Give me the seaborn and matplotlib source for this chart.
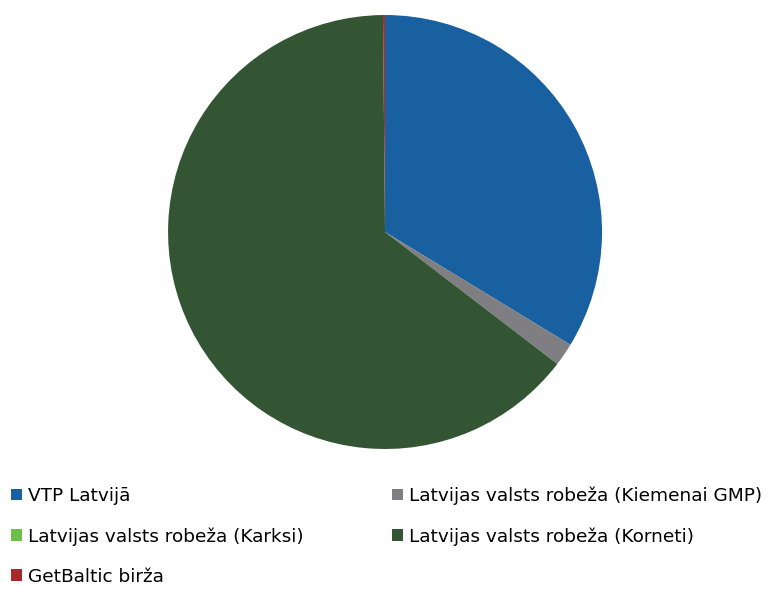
import matplotlib
matplotlib.use("Agg")
import matplotlib.pyplot as plt
from matplotlib.patches import Patch
import seaborn as sns

labels = [
    "VTP Latvijā",
    "Latvijas valsts robeža (Kiemenai GMP)",
    "Latvijas valsts robeža (Karksi)",
    "Latvijas valsts robeža (Korneti)",
    "GetBaltic birža",
]
shares = [33.7, 1.7, 0.0, 64.45, 0.15]
colors = ["#18609f", "#7f7f83", "#6cc04a", "#335533", "#a52a2a"]

sns.set_theme(style="white")
plt.rcParams["font.family"] = ["DejaVu Sans"]

fig = plt.figure(figsize=(7.69, 5.89), dpi=100)
ax = fig.add_axes([0.2185, 0.2377, 0.5644, 0.7368])
ax.pie(shares, colors=colors, startangle=90, counterclock=False,
       wedgeprops=dict(linewidth=0))
ax.set_xlim(-1, 1)
ax.set_ylim(-1, 1)
ax.set_aspect("equal")
ax.axis("off")

# legend order: row-wise, two columns
handles = [Patch(facecolor=c, edgecolor="none") for c in colors]
order = [0, 2, 4, 1, 3]
fig.legend([handles[i] for i in order], [labels[i] for i in order],
           ncol=2, loc="upper left", bbox_to_anchor=(0.014, 0.174),
           frameon=False, fontsize=13.3, labelcolor="black",
           handlelength=0.6, handleheight=0.6,
           handletextpad=0.35, labelspacing=1.2, columnspacing=4.75,
           borderpad=0, borderaxespad=0)

fig.savefig("out.png", dpi=100)
